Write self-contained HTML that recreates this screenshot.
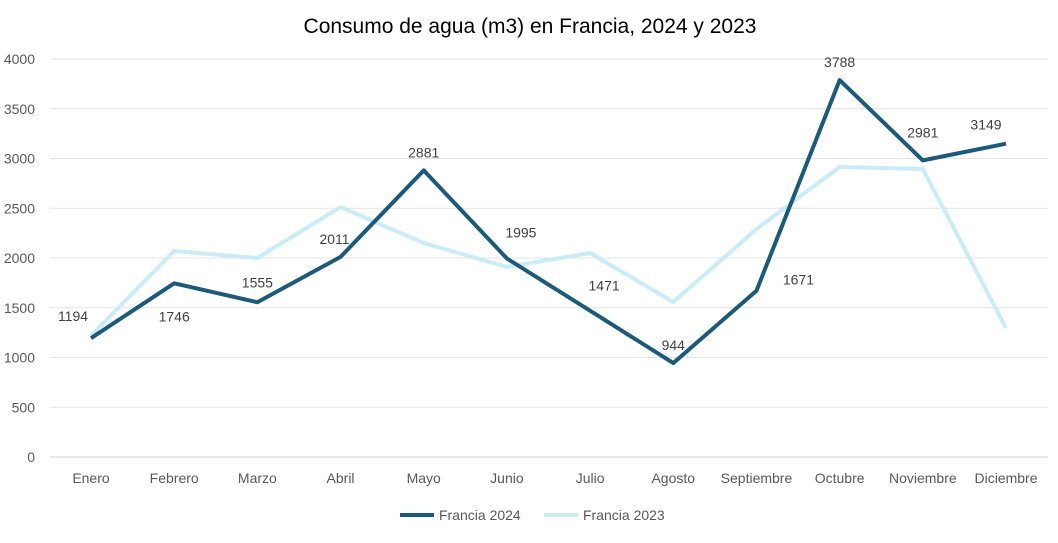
<!DOCTYPE html>
<html><head><meta charset="utf-8"><style>
body{margin:0;background:#fff;font-family:"Liberation Sans",sans-serif}
svg text{font-family:"Liberation Sans",sans-serif}
</style></head><body>
<svg id="c" width="1058" height="538">
<text x="530" y="33" text-anchor="middle" font-size="21" fill="#000">Consumo de agua (m3) en Francia, 2024 y 2023</text>
<g id="grid"></g><g id="axes"></g><g id="series"></g><g id="labels"></g>
<g>
<line x1="400" y1="515" x2="434" y2="515" stroke="#1b5a7a" stroke-width="4"/>
<text x="439" y="520" font-size="14" fill="#595959">Francia 2024</text>
<line x1="544" y1="515" x2="578" y2="515" stroke="#c9ecf7" stroke-width="4"/>
<text x="583" y="520" font-size="14" fill="#595959">Francia 2023</text>
</g>
</svg>
<script>
const categories=["Enero","Febrero","Marzo","Abril","Mayo","Junio","Julio","Agosto","Septiembre","Octubre","Noviembre","Diciembre"];
const francia2024=[1194,1746,1555,2011,2881,1995,1471,944,1671,3788,2981,3149];
const francia2023=[1220,2070,2000,2512,2150,1910,2050,1558,2290,2915,2895,1296];
const yTicks=[0,500,1000,1500,2000,2500,3000,3500,4000];
const NS="http://www.w3.org/2000/svg";
const x=i=>91+i*(1006-91)/11;
const y=v=>457-v*(457-59)/4000;
function mk(t,a,p){const e=document.createElementNS(NS,t);for(const k in a)e.setAttribute(k,a[k]);p.appendChild(e);return e;}
const grid=document.getElementById('grid'),axes=document.getElementById('axes'),ser=document.getElementById('series'),lab=document.getElementById('labels');
yTicks.forEach(t=>{
 const l=mk('line',{x1:50,x2:1048,y1:y(t),y2:y(t),stroke:t===0?'#d0d0d0':'#e4e4e4','stroke-width':1},grid);
 
 
 const tx=mk('text',{x:35,y:y(t)+5,'text-anchor':'end','font-size':14,fill:'#595959'},axes);
 tx.textContent=t;
 
 
});
categories.forEach((c,i)=>{
 const tx=mk('text',{x:x(i),y:483,'text-anchor':'middle','font-size':14,fill:'#595959'},axes);
 tx.textContent=c;
 
 
});
function line(vals,col,name){
 const p=mk('polyline',{points:vals.map((v,i)=>x(i)+','+y(v)).join(' '),fill:'none',stroke:col,'stroke-width':4,'stroke-linejoin':'round'},ser);
 
 
}
line(francia2023,'#c9ecf7','line-francia-2023');
line(francia2024,'#1b5a7a','line-francia-2024');
const off=[[-18,-22],[0,33],[0,-20],[-6,-18],[0,-18],[14,-26],[14,-25],[0,-18],[42,-11],[0,-18],[0,-28],[-20,-19]];
francia2024.forEach((v,i)=>{
 const tx=mk('text',{x:x(i)+off[i][0],y:y(v)+off[i][1]+5,'text-anchor':'middle','font-size':14,fill:'#404040'},lab);
 tx.textContent=v;
 
 
});
</script>
</body></html>
